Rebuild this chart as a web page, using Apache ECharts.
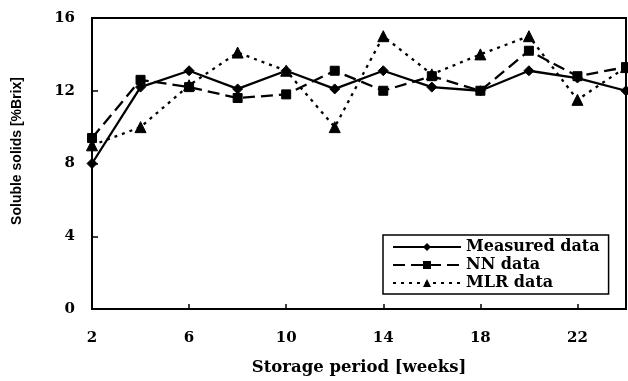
<!DOCTYPE html>
<html>
<head>
<meta charset="utf-8">
<script src="https://cdn.jsdelivr.net/npm/echarts@6/dist/echarts.min.js"></script>
<style>
html,body{margin:0;padding:0;background:#fff;}
#c{width:628px;height:381px;}
</style>
</head>
<body>
<div id="c"></div>
<script>
// Data
const weeks = ['2','4','6','8','10','12','14','16','18','20','22','24'];
const measuredData = [8.0, 12.2, 13.1, 12.1, 13.1, 12.1, 13.1, 12.2, 12.0, 13.1, 12.7, 12.0];
const nnData       = [9.4, 12.6, 12.2, 11.6, 11.8, 13.1, 12.0, 12.8, 12.0, 14.2, 12.8, 13.3];
const mlrData      = [9.0, 10.0, 12.3, 14.1, 13.1, 10.0, 15.0, 12.9, 14.0, 15.0, 11.5, 13.3];
const seriesNames  = ['Measured data', 'NN data', 'MLR data'];
const yTicks       = [0, 4, 8, 12, 16];
const xTitle = 'Storage period [weeks]';
const yTitle = 'Soluble solids [%Brix]';

const serif = '"DejaVu Serif", "Liberation Serif", serif';
const chart = echarts.init(document.getElementById('c'), null, {renderer: 'canvas'});

function lineSeries(name, data, type, symbol, size) {
  return {
    name: name, type: 'line', data: data,
    symbol: symbol, symbolSize: size, showSymbol: true,
    lineStyle: {color: '#000', width: 2.3, type: type},
    itemStyle: {color: '#000', borderColor: '#000'},
    emphasis: {disabled: true},
    animation: false
  };
}

chart.setOption({
  backgroundColor: '#fff',
  animation: false,
  grid: {left: 92, right: 2, top: 18, bottom: 68, show: true, borderColor: '#000', borderWidth: 2, containLabel: false},
  legend: {
    orient: 'vertical', left: 383, top: 235,
    data: seriesNames,
    itemWidth: 68, itemHeight: 10, itemGap: 2,
    padding: [4, 9, 3, 9],
    borderColor: '#000', borderWidth: 1.5, backgroundColor: '#fff',
    textStyle: {fontFamily: serif, fontWeight: 'bold', fontSize: 16, color: '#000'},
    inactiveColor: '#000'
  },
  xAxis: {
    type: 'category', data: weeks, boundaryGap: false,
    name: xTitle, nameLocation: 'middle', nameGap: 50,
    nameTextStyle: {fontFamily: serif, fontWeight: 'bold', fontSize: 16.5, color: '#000'},
    axisLine: {lineStyle: {color: '#000', width: 2}},
    axisTick: {inside: true, length: 5, interval: 1, lineStyle: {color: '#000', width: 1.5}},
    axisLabel: {interval: 1, margin: 22, fontFamily: serif, fontWeight: 'bold', fontSize: 15, color: '#000'},
    splitLine: {show: false}
  },
  yAxis: {
    type: 'value', min: yTicks[0], max: yTicks[yTicks.length - 1], interval: 4,
    axisLine: {show: true, lineStyle: {color: '#000', width: 2}},
    axisTick: {show: true, inside: true, length: 6, lineStyle: {color: '#000', width: 1.5}},
    axisLabel: {margin: 17, fontFamily: serif, fontWeight: 'bold', fontSize: 15, color: '#000'},
    splitLine: {show: false}
  },
  graphic: [{
    type: 'text', x: 17, y: 151, rotation: Math.PI / 2,
    style: {text: yTitle, font: 'bold 14px "Liberation Sans", Arial, sans-serif', fill: '#000',
            textAlign: 'center', textVerticalAlign: 'middle'}
  }],
  series: [
    lineSeries(seriesNames[0], measuredData, 'solid', 'diamond', 10),
    lineSeries(seriesNames[1], nnData, [12, 6], 'rect', 9),
    lineSeries(seriesNames[2], mlrData, [3, 5], 'triangle', 11)
  ]
});
</script>
</body>
</html>
